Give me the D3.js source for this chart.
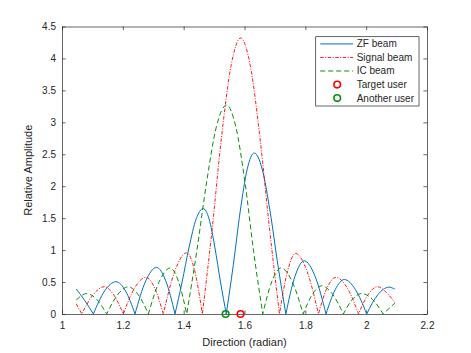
<!DOCTYPE html>
<html>
<head>
<meta charset="utf-8">
<script src="https://cdn.jsdelivr.net/npm/d3@7"></script>
<style>
    body { margin: 0; background: #fff; }
    svg { font-family: 'Liberation Sans', Arial, sans-serif; }
</style>
</head>
<body>
<script>
// =============== DATA ===============
// [direction (radian), relative amplitude]
const zfBeam = [
    [1.047, 0.39], [1.075, 0.21], [1.103, 0],
    [1.140, 0.36], [1.1775, 0.505], [1.209, 0.36], [1.240, 0],
    [1.2755, 0.52], [1.311, 0.73], [1.341, 0.52], [1.3715, 0],
    [1.3948, 0.50], [1.418, 1.05], [1.4413, 1.49], [1.4645, 1.65], [1.4834, 1.49], [1.5023, 1.05], [1.5211, 0.50], [1.54, 0],
    [1.563, 0.76], [1.586, 1.61], [1.609, 2.27], [1.632, 2.52], [1.658, 2.27], [1.684, 1.61], [1.710, 0.76], [1.736, 0],
    [1.766, 0.59], [1.796, 0.833], [1.832, 0.59], [1.868, 0],
    [1.898, 0.38], [1.928, 0.54], [1.965, 0.38], [2.0017, 0],
    [2.038, 0.30], [2.075, 0.42], [2.094, 0.39]
]
const signalBeam = [
    [1.047, 0.16], [1.065, 0],
    [1.102, 0.30], [1.139, 0.427], [1.170, 0.30], [1.2016, 0],
    [1.239, 0.41], [1.276, 0.573], [1.3045, 0.41], [1.333, 0],
    [1.3715, 0.68], [1.41, 0.958], [1.436, 0.68], [1.4615, 0],
    [1.493, 1.30], [1.524, 2.75], [1.556, 3.89], [1.587, 4.32], [1.619, 3.89], [1.651, 2.75], [1.683, 1.30], [1.715, 0],
    [1.7415, 0.67], [1.768, 0.948], [1.8055, 0.67], [1.843, 0],
    [1.8715, 0.41], [1.90, 0.573], [1.9375, 0.41], [1.975, 0],
    [2.006, 0.30], [2.037, 0.427], [2.066, 0.34], [2.094, 0.18]
]
const icBeam = [
    [1.047, 0.22], [1.081, 0.32], [1.114, 0.23], [1.147, 0],
    [1.1825, 0.30], [1.218, 0.425], [1.251, 0.30], [1.284, 0],
    [1.32, 0.51], [1.356, 0.72], [1.383, 0.51], [1.41, 0],
    [1.443, 0.98], [1.476, 2.08], [1.508, 2.94], [1.541, 3.27], [1.571, 2.94], [1.601, 2.08], [1.630, 0.98], [1.66, 0],
    [1.69, 0.51], [1.72, 0.72], [1.7565, 0.51], [1.793, 0],
    [1.8235, 0.31], [1.854, 0.44], [1.8895, 0.31], [1.925, 0],
    [1.955, 0.23], [1.985, 0.32], [2.0205, 0.23], [2.056, 0],
    [2.094, 0.17]
]
const targetUser = [1.587, 0]
const anotherUser = [1.538, 0]
const xTicks = [1, 1.2, 1.4, 1.6, 1.8, 2, 2.2]
const yTicks = [0, 0.5, 1, 1.5, 2, 2.5, 3, 3.5, 4, 4.5]
const legendLabels = ['ZF beam', 'Signal beam', 'IC beam', 'Target user', 'Another user']

// =============== SETUP ===============
const margin = {
        top: 26.5,
        right: 44,
        bottom: 39,
        left: 62
    },
    width = 471 - margin.left - margin.right,
    height = 353 - margin.top - margin.bottom

const axisColor = '#262626'
const blue = '#0072BD'
const red = '#FF0000'
const green = '#0a8f0a'

const svg = d3.select('body').append('svg')
    .attr('width', 471)
    .attr('height', 353)

const g = svg.append('g')
    .attr('transform', 'translate(' + margin.left + ',' + margin.top + ')')

const x = d3.scaleLinear()
    .domain([1, 2.2])
    .range([0, width])

const y = d3.scaleLinear()
    .domain([0, 4.5])
    .range([height, 0])

// =============== AXES ===============
function styleAxis(sel) {
    sel.selectAll('path').attr('stroke', axisColor).attr('stroke-width', 0.7)
    sel.selectAll('line').attr('stroke', axisColor).attr('stroke-width', 0.7)
    sel.selectAll('text')
        .attr('fill', axisColor)
        .attr('font-size', '10px')
        .attr('font-family', "'Liberation Sans', Arial, sans-serif")
}

g.append('g')
    .attr('transform', 'translate(0,' + height + ')')
    .call(d3.axisBottom(x).tickValues(xTicks).tickSize(-3.6).tickSizeOuter(0).tickPadding(8).tickFormat((d) => d))
    .call(styleAxis)

g.append('g')
    .call(d3.axisTop(x).tickValues(xTicks).tickSize(-3.6).tickSizeOuter(0).tickFormat(''))
    .call(styleAxis)

g.append('g')
    .call(d3.axisLeft(y).tickValues(yTicks).tickSize(-3.6).tickSizeOuter(0).tickPadding(6).tickFormat((d) => d))
    .call(styleAxis)

g.append('g')
    .attr('transform', 'translate(' + width + ',0)')
    .call(d3.axisRight(y).tickValues(yTicks).tickSize(-3.6).tickSizeOuter(0).tickFormat(''))
    .call(styleAxis)

svg.append('text')
    .attr('x', margin.left + width / 2)
    .attr('y', 345.6)
    .attr('text-anchor', 'middle')
    .attr('font-size', '11px')
    .attr('fill', axisColor)
    .text('Direction (radian)')

svg.append('text')
    .attr('transform', 'translate(32.3,' + (margin.top + height / 2) + ') rotate(-90)')
    .attr('text-anchor', 'middle')
    .attr('font-size', '11px')
    .attr('fill', axisColor)
    .text('Relative Amplitude')

// =============== BEAMS ===============
// split a beam at its nulls so every lobe gets its own smooth arc
function toLobes(points) {
    const lobes = []
    let current = []
    points.forEach((p) => {
        current.push(p)
        if (p[1] === 0 && current.length > 1) {
            lobes.push(current)
            current = [p]
        }
    })
    if (current.length > 1) lobes.push(current)
    return lobes
}

const line = d3.line()
    .x((d) => x(d[0]))
    .y((d) => y(d[1]))
    .curve(d3.curveMonotoneX)

function beamPath(points) {
    return toLobes(points).map((lobe, i) => {
        let d = line(lobe)
        return i === 0 ? d : 'L' + d.slice(1)
    }).join('')
}

const beams = [
    { data: zfBeam, color: blue, dash: null, w: 1 },
    { data: signalBeam, color: red, dash: '3.5,1.5,1,1.5', w: 0.9 },
    { data: icBeam, color: green, dash: '5,3', w: 1 }
]

g.selectAll('.beam')
    .data(beams)
    .enter().append('path')
    .attr('class', 'beam')
    .attr('d', (d) => beamPath(d.data))
    .attr('fill', 'none')
    .attr('stroke', (d) => d.color)
    .attr('stroke-width', (d) => d.w)
    .attr('stroke-dasharray', (d) => d.dash)

g.selectAll('.user')
    .data([{ p: targetUser, color: red }, { p: anotherUser, color: green }])
    .enter().append('circle')
    .attr('class', 'user')
    .attr('cx', (d) => x(d.p[0]))
    .attr('cy', (d) => y(d.p[1]))
    .attr('r', 3.3)
    .attr('fill', 'none')
    .attr('stroke', (d) => d.color)
    .attr('stroke-width', 1.6)

// =============== LEGEND ===============
const legend = svg.append('g')
    .attr('class', 'legend')
    .attr('transform', 'translate(315.7, 36.7)')

legend.append('rect')
    .attr('width', 103.3)
    .attr('height', 69.3)
    .attr('fill', '#fff')
    .attr('stroke', axisColor)
    .attr('stroke-width', 0.7)

const rowY = (i) => 7.2 + i * 13.55

legendLabels.forEach((label, i) => {
    if (i < 3) {
        legend.append('line')
            .attr('x1', 4.5)
            .attr('x2', 37.5)
            .attr('y1', rowY(i))
            .attr('y2', rowY(i))
            .attr('stroke', beams[i].color)
            .attr('stroke-width', beams[i].w)
            .attr('stroke-dasharray', beams[i].dash)
    } else {
        legend.append('circle')
            .attr('cx', 21.5)
            .attr('cy', rowY(i))
            .attr('r', 3.3)
            .attr('fill', 'none')
            .attr('stroke', i === 3 ? red : green)
            .attr('stroke-width', 1.6)
    }
    legend.append('text')
        .attr('x', 41)
        .attr('y', rowY(i))
        .attr('dy', '0.35em')
        .attr('font-size', '10px')
        .attr('fill', axisColor)
        .text(label)
})
</script>
</body>
</html>
